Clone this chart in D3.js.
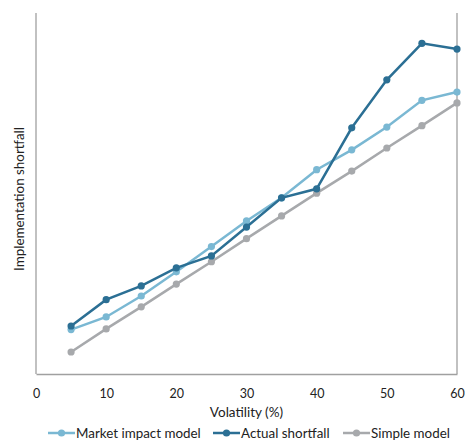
<!DOCTYPE html>
<html><head><meta charset="utf-8">
<script src="https://cdn.jsdelivr.net/npm/d3@7"></script>
<style>body{margin:0;background:#fff;} text{font-family:Lato, "Open Sans", sans-serif;fill:#222;}</style>
</head><body><svg id="c" width="466" height="441"></svg>
<script>
const volatility = [5,10,15,20,25,30,35,40,45,50,55,60];
const marketImpact = [12.3,15.8,21.6,28.3,35.3,42.4,48.8,56.6,62.1,68.4,75.8,78.1];
const actualShortfall = [13.3,20.6,24.4,29.4,32.7,40.7,48.8,51.3,68.2,81.5,91.6,90.0];
const simpleModel = [6.1,12.5,18.6,24.9,31.1,37.5,43.8,50.1,56.2,62.6,68.8,75.1];
const xTicks = [0,10,20,30,40,50,60];
const seriesNames = ["Market impact model","Actual shortfall","Simple model"];
const colors = ["#7ab8d3","#2b6f94","#a7a9ac"];

const svg = d3.select("#c");
const m = {l:36, r:457, t:13, b:374};
const x = d3.scaleLinear().domain([0,60]).range([m.l, m.r]);
const y = d3.scaleLinear().domain([0,100]).range([m.b, m.t]);

const axisColor = "#a0a0a0";
svg.append("line").attr("x1",m.l).attr("x2",m.l).attr("y1",m.t).attr("y2",m.b).attr("stroke",axisColor).attr("stroke-width",1.3);
svg.append("line").attr("x1",m.r).attr("x2",m.r).attr("y1",m.t).attr("y2",m.b).attr("stroke",axisColor).attr("stroke-width",1.3);

const xAxis = svg.append("g").attr("transform",`translate(0,${m.b})`)
  .call(d3.axisBottom(x).tickValues(xTicks).tickSize(0).tickPadding(15));
xAxis.select(".domain").attr("stroke",axisColor).attr("stroke-width",1.3);
xAxis.selectAll("text").style("font-size","12.5px").style("font-family","Lato, sans-serif").attr("fill","#222");

svg.append("text").attr("x",(m.l+m.r)/2).attr("y",417).attr("text-anchor","middle").style("font-size","13.5px").text("Volatility (%)");
svg.append("text").attr("transform",`translate(24,199) rotate(-90)`).attr("text-anchor","middle").style("font-size","13.4px").text("Implementation shortfall");

const data = [marketImpact, actualShortfall, simpleModel];
const line = d3.line().x((d,i)=>x(volatility[i])).y(d=>y(d));
[2,0,1].forEach(k=>{
  svg.append("path").datum(data[k]).attr("d",line).attr("fill","none").attr("stroke",colors[k]).attr("stroke-width",2.5);
  svg.selectAll(null).data(data[k]).enter().append("circle")
    .attr("cx",(d,i)=>x(volatility[i])).attr("cy",d=>y(d)).attr("r",3.6).attr("fill",colors[k]);
});

const legendX = [48,213,343];
seriesNames.forEach((n,k)=>{
  const g = svg.append("g").attr("transform",`translate(${legendX[k]},433)`);
  g.append("line").attr("x1",0).attr("x2",27).attr("y1",0).attr("y2",0).attr("stroke",colors[k]).attr("stroke-width",2.5);
  g.append("circle").attr("cx",13.5).attr("cy",0).attr("r",3.6).attr("fill",colors[k]);
  g.append("text").attr("x",28).attr("y",4.8).style("font-size","13.4px").text(n);
});
</script></body></html>
